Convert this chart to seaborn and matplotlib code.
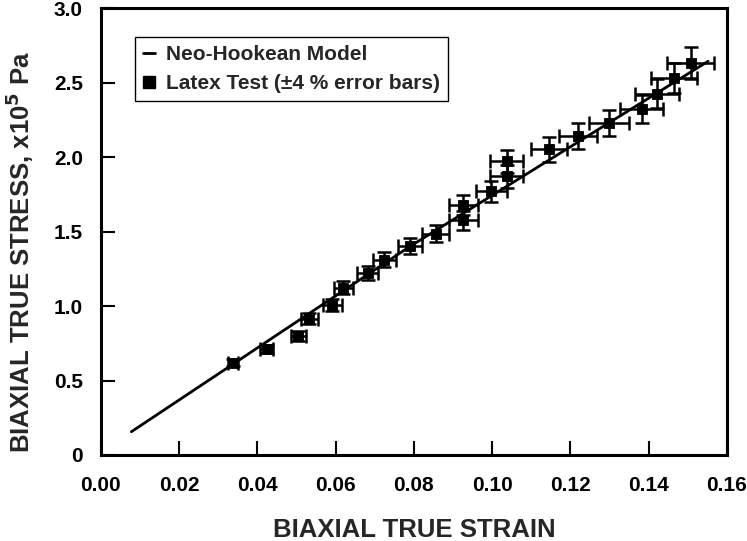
import numpy as np
import pandas as pd
import matplotlib
matplotlib.use("Agg")
import matplotlib.pyplot as plt
import seaborn as sns
from matplotlib.lines import Line2D

# ── Data ──
strain = [0.0338, 0.0424, 0.0505, 0.0533, 0.0592, 0.0620, 0.0682, 0.0725,
          0.0790, 0.0856, 0.0926, 0.0926, 0.0998, 0.1037, 0.1037, 0.1146,
          0.1220, 0.1299, 0.1382, 0.1422, 0.1465, 0.1508]
stress = [0.619, 0.710, 0.800, 0.916, 1.005, 1.124, 1.222, 1.312,
          1.403, 1.486, 1.575, 1.680, 1.769, 1.870, 1.971, 2.051,
          2.141, 2.230, 2.324, 2.424, 2.529, 2.632]
model_strain = [0.0078, 0.0790, 0.1552]
model_stress = [0.156, 1.400, 2.643]
error_frac = 0.04

x_ticks = [0.00, 0.02, 0.04, 0.06, 0.08, 0.10, 0.12, 0.14, 0.16]
x_tick_labels = ["0.00", "0.02", "0.04", "0.06", "0.08", "0.10", "0.12", "0.14", "0.16"]
y_ticks = [0, 0.5, 1.0, 1.5, 2.0, 2.5, 3.0]
y_tick_labels = ["0", "0.5", "1.0", "1.5", "2.0", "2.5", "3.0"]

sns.set_style("ticks")
plt.rcParams["font.family"] = ["Liberation Sans", "DejaVu Sans"]
plt.rcParams["font.weight"] = "bold"

test = pd.DataFrame({"strain": strain, "stress": stress})
model = pd.DataFrame({"strain": model_strain, "stress": model_stress})

fig, ax = plt.subplots(figsize=(7.47, 5.41), dpi=100)
fig.subplots_adjust(left=0.135, right=0.973, bottom=0.159, top=0.985)

ax.errorbar(test["strain"], test["stress"],
            xerr=test["strain"] * error_frac, yerr=test["stress"] * error_frac,
            fmt="none", ecolor="black", elinewidth=1.8, capsize=5, capthick=1.8,
            zorder=2)
sns.lineplot(data=model, x="strain", y="stress", color="black", lw=2,
             ax=ax, zorder=3)
sns.scatterplot(data=test, x="strain", y="stress", marker="s", s=60,
                color="black", edgecolor="black", ax=ax, zorder=4)

ax.set_xlim(0, 0.16)
ax.set_ylim(0, 3.0)
ax.set_xticks(x_ticks)
ax.set_xticklabels(x_tick_labels)
ax.set_yticks(y_ticks)
ax.set_yticklabels(y_tick_labels)
ax.tick_params(axis="both", direction="in", length=10, width=1.5,
               labelsize=15, colors="black")
ax.tick_params(axis="x", pad=15)
ax.tick_params(axis="y", pad=13)
for lab in ax.get_xticklabels() + ax.get_yticklabels():
    lab.set_fontweight("bold")
for side in ["left", "right", "top", "bottom"]:
    ax.spines[side].set_visible(True)
    ax.spines[side].set_linewidth(2.2)
    ax.spines[side].set_color("black")

ax.set_xlabel("BIAXIAL TRUE STRAIN", fontsize=18.5, fontweight="bold", labelpad=17)
ax.set_ylabel(r"BIAXIAL TRUE STRESS, x10$^{\mathbf{5}}$ Pa", fontsize=18.5,
              fontweight="bold")
ax.yaxis.set_label_coords(-0.104, 0.455)

handles = [Line2D([], [], color="black", lw=2),
           Line2D([], [], color="black", marker="s", ls="none", markersize=8)]
leg = ax.legend(handles, ["Neo-Hookean Model", "Latex Test (\u00b14 % error bars)"],
                loc="upper left", bbox_to_anchor=(0.054, 0.935), borderaxespad=0,
                fancybox=False, framealpha=1, edgecolor="black",
                handlelength=0.6, handletextpad=0.5, labelspacing=0.45,
                prop={"size": 15, "weight": "bold"})
leg.get_frame().set_linewidth(1.0)

fig.savefig("out.png", dpi=100)
